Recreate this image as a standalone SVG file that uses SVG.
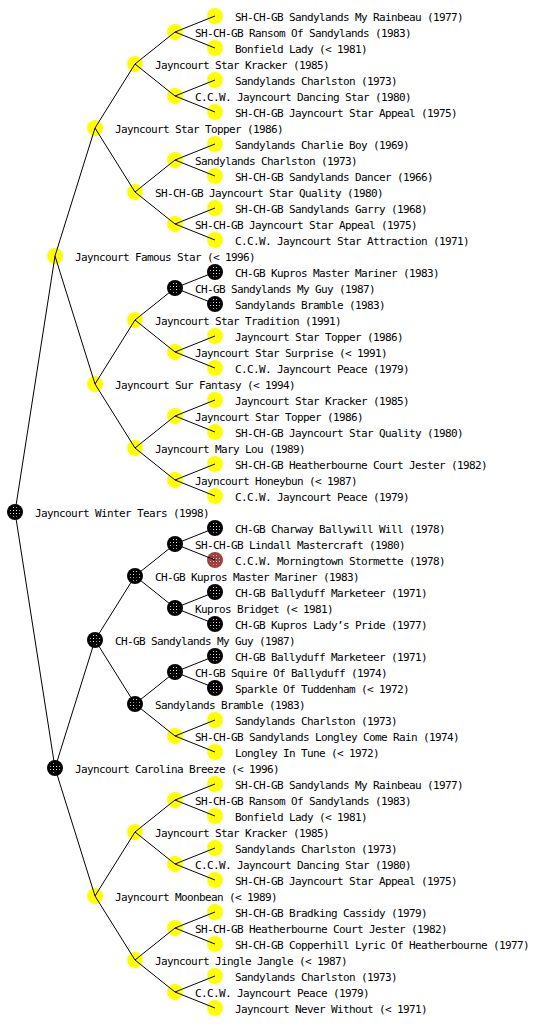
<svg xmlns="http://www.w3.org/2000/svg" xmlns:xlink="http://www.w3.org/1999/xlink" width="560" height="1024" viewBox="0 0 560 1024">
<style>
text{font-family:"DejaVu Sans Mono","Liberation Mono",monospace;font-size:11px;letter-spacing:-0.62px;fill:#000}
.c{fill:none;stroke:#000;stroke-width:1}
</style>
<defs>
<pattern id="dots" width="3" height="3" patternUnits="userSpaceOnUse"><rect width="3" height="3" fill="#000"/><rect x="1" y="1" width="1" height="1" fill="#fff"/></pattern>
<pattern id="rdots" width="3" height="3" patternUnits="userSpaceOnUse"><rect width="3" height="3" fill="#a04040"/><rect x="1" y="1" width="1" height="1" fill="#e8c8c8"/></pattern>
<g id="Y"><circle r="8" fill="#ffff00"/></g>
<g id="K"><circle r="8" fill="#000"/><circle r="5" fill="url(#dots)"/></g>
<g id="R"><circle r="8" fill="#a04040"/><circle r="5" fill="url(#rdots)"/></g>
</defs>
<rect width="560" height="1024" fill="#fff"/>
<g id="nodes">
<g id="n0"><use xlink:href="#K" x="15" y="512"/><text x="35" y="517">Jayncourt Winter Tears (1998)</text></g>
<g id="n1"><use xlink:href="#Y" x="55" y="256"/><text x="75" y="261">Jayncourt Famous Star (&lt; 1996)</text></g>
<g id="n2"><use xlink:href="#K" x="55" y="768"/><text x="75" y="773">Jayncourt Carolina Breeze (&lt; 1996)</text></g>
<g id="n3"><use xlink:href="#Y" x="95" y="128"/><text x="115" y="133">Jayncourt Star Topper (1986)</text></g>
<g id="n4"><use xlink:href="#Y" x="95" y="384"/><text x="115" y="389">Jayncourt Sur Fantasy (&lt; 1994)</text></g>
<g id="n5"><use xlink:href="#K" x="95" y="640"/><text x="115" y="645">CH-GB Sandylands My Guy (1987)</text></g>
<g id="n6"><use xlink:href="#Y" x="95" y="896"/><text x="115" y="901">Jayncourt Moonbean (&lt; 1989)</text></g>
<g id="n7"><use xlink:href="#Y" x="135" y="64"/><text x="155" y="69">Jayncourt Star Kracker (1985)</text></g>
<g id="n8"><use xlink:href="#Y" x="135" y="192"/><text x="155" y="197">SH-CH-GB Jayncourt Star Quality (1980)</text></g>
<g id="n9"><use xlink:href="#Y" x="135" y="320"/><text x="155" y="325">Jayncourt Star Tradition (1991)</text></g>
<g id="n10"><use xlink:href="#Y" x="135" y="448"/><text x="155" y="453">Jayncourt Mary Lou (1989)</text></g>
<g id="n11"><use xlink:href="#K" x="135" y="576"/><text x="155" y="581">CH-GB Kupros Master Mariner (1983)</text></g>
<g id="n12"><use xlink:href="#K" x="135" y="704"/><text x="155" y="709">Sandylands Bramble (1983)</text></g>
<g id="n13"><use xlink:href="#Y" x="135" y="832"/><text x="155" y="837">Jayncourt Star Kracker (1985)</text></g>
<g id="n14"><use xlink:href="#Y" x="135" y="960"/><text x="155" y="965">Jayncourt Jingle Jangle (&lt; 1987)</text></g>
<g id="n15"><use xlink:href="#Y" x="175" y="32"/><text x="195" y="37">SH-CH-GB Ransom Of Sandylands (1983)</text></g>
<g id="n16"><use xlink:href="#Y" x="175" y="96"/><text x="195" y="101">C.C.W. Jayncourt Dancing Star (1980)</text></g>
<g id="n17"><use xlink:href="#Y" x="175" y="160"/><text x="195" y="165">Sandylands Charlston (1973)</text></g>
<g id="n18"><use xlink:href="#Y" x="175" y="224"/><text x="195" y="229">SH-CH-GB Jayncourt Star Appeal (1975)</text></g>
<g id="n19"><use xlink:href="#K" x="175" y="288"/><text x="195" y="293">CH-GB Sandylands My Guy (1987)</text></g>
<g id="n20"><use xlink:href="#Y" x="175" y="352"/><text x="195" y="357">Jayncourt Star Surprise (&lt; 1991)</text></g>
<g id="n21"><use xlink:href="#Y" x="175" y="416"/><text x="195" y="421">Jayncourt Star Topper (1986)</text></g>
<g id="n22"><use xlink:href="#Y" x="175" y="480"/><text x="195" y="485">Jayncourt Honeybun (&lt; 1987)</text></g>
<g id="n23"><use xlink:href="#K" x="175" y="544"/><text x="195" y="549">SH-CH-GB Lindall Mastercraft (1980)</text></g>
<g id="n24"><use xlink:href="#K" x="175" y="608"/><text x="195" y="613">Kupros Bridget (&lt; 1981)</text></g>
<g id="n25"><use xlink:href="#K" x="175" y="672"/><text x="195" y="677">CH-GB Squire Of Ballyduff (1974)</text></g>
<g id="n26"><use xlink:href="#Y" x="175" y="736"/><text x="195" y="741">SH-CH-GB Sandylands Longley Come Rain (1974)</text></g>
<g id="n27"><use xlink:href="#Y" x="175" y="800"/><text x="195" y="805">SH-CH-GB Ransom Of Sandylands (1983)</text></g>
<g id="n28"><use xlink:href="#Y" x="175" y="864"/><text x="195" y="869">C.C.W. Jayncourt Dancing Star (1980)</text></g>
<g id="n29"><use xlink:href="#Y" x="175" y="928"/><text x="195" y="933">SH-CH-GB Heatherbourne Court Jester (1982)</text></g>
<g id="n30"><use xlink:href="#Y" x="175" y="992"/><text x="195" y="997">C.C.W. Jayncourt Peace (1979)</text></g>
<g id="n31"><use xlink:href="#Y" x="215" y="16"/><text x="235" y="21">SH-CH-GB Sandylands My Rainbeau (1977)</text></g>
<g id="n32"><use xlink:href="#Y" x="215" y="48"/><text x="235" y="53">Bonfield Lady (&lt; 1981)</text></g>
<g id="n33"><use xlink:href="#Y" x="215" y="80"/><text x="235" y="85">Sandylands Charlston (1973)</text></g>
<g id="n34"><use xlink:href="#Y" x="215" y="112"/><text x="235" y="117">SH-CH-GB Jayncourt Star Appeal (1975)</text></g>
<g id="n35"><use xlink:href="#Y" x="215" y="144"/><text x="235" y="149">Sandylands Charlie Boy (1969)</text></g>
<g id="n36"><use xlink:href="#Y" x="215" y="176"/><text x="235" y="181">SH-CH-GB Sandylands Dancer (1966)</text></g>
<g id="n37"><use xlink:href="#Y" x="215" y="208"/><text x="235" y="213">SH-CH-GB Sandylands Garry (1968)</text></g>
<g id="n38"><use xlink:href="#Y" x="215" y="240"/><text x="235" y="245">C.C.W. Jayncourt Star Attraction (1971)</text></g>
<g id="n39"><use xlink:href="#K" x="215" y="272"/><text x="235" y="277">CH-GB Kupros Master Mariner (1983)</text></g>
<g id="n40"><use xlink:href="#K" x="215" y="304"/><text x="235" y="309">Sandylands Bramble (1983)</text></g>
<g id="n41"><use xlink:href="#Y" x="215" y="336"/><text x="235" y="341">Jayncourt Star Topper (1986)</text></g>
<g id="n42"><use xlink:href="#Y" x="215" y="368"/><text x="235" y="373">C.C.W. Jayncourt Peace (1979)</text></g>
<g id="n43"><use xlink:href="#Y" x="215" y="400"/><text x="235" y="405">Jayncourt Star Kracker (1985)</text></g>
<g id="n44"><use xlink:href="#Y" x="215" y="432"/><text x="235" y="437">SH-CH-GB Jayncourt Star Quality (1980)</text></g>
<g id="n45"><use xlink:href="#Y" x="215" y="464"/><text x="235" y="469">SH-CH-GB Heatherbourne Court Jester (1982)</text></g>
<g id="n46"><use xlink:href="#Y" x="215" y="496"/><text x="235" y="501">C.C.W. Jayncourt Peace (1979)</text></g>
<g id="n47"><use xlink:href="#K" x="215" y="528"/><text x="235" y="533">CH-GB Charway Ballywill Will (1978)</text></g>
<g id="n48"><use xlink:href="#R" x="215" y="560"/><text x="235" y="565">C.C.W. Morningtown Stormette (1978)</text></g>
<g id="n49"><use xlink:href="#K" x="215" y="592"/><text x="235" y="597">CH-GB Ballyduff Marketeer (1971)</text></g>
<g id="n50"><use xlink:href="#K" x="215" y="624"/><text x="235" y="629">CH-GB Kupros Lady’s Pride (1977)</text></g>
<g id="n51"><use xlink:href="#K" x="215" y="656"/><text x="235" y="661">CH-GB Ballyduff Marketeer (1971)</text></g>
<g id="n52"><use xlink:href="#K" x="215" y="688"/><text x="235" y="693">Sparkle Of Tuddenham (&lt; 1972)</text></g>
<g id="n53"><use xlink:href="#Y" x="215" y="720"/><text x="235" y="725">Sandylands Charlston (1973)</text></g>
<g id="n54"><use xlink:href="#Y" x="215" y="752"/><text x="235" y="757">Longley In Tune (&lt; 1972)</text></g>
<g id="n55"><use xlink:href="#Y" x="215" y="784"/><text x="235" y="789">SH-CH-GB Sandylands My Rainbeau (1977)</text></g>
<g id="n56"><use xlink:href="#Y" x="215" y="816"/><text x="235" y="821">Bonfield Lady (&lt; 1981)</text></g>
<g id="n57"><use xlink:href="#Y" x="215" y="848"/><text x="235" y="853">Sandylands Charlston (1973)</text></g>
<g id="n58"><use xlink:href="#Y" x="215" y="880"/><text x="235" y="885">SH-CH-GB Jayncourt Star Appeal (1975)</text></g>
<g id="n59"><use xlink:href="#Y" x="215" y="912"/><text x="235" y="917">SH-CH-GB Bradking Cassidy (1979)</text></g>
<g id="n60"><use xlink:href="#Y" x="215" y="944"/><text x="235" y="949">SH-CH-GB Copperhill Lyric Of Heatherbourne (1977)</text></g>
<g id="n61"><use xlink:href="#Y" x="215" y="976"/><text x="235" y="981">Sandylands Charlston (1973)</text></g>
<g id="n62"><use xlink:href="#Y" x="215" y="1008"/><text x="235" y="1013">Jayncourt Never Without (&lt; 1971)</text></g>
</g>
<g id="connectors">
<path class="c" d="M55 256L15 512L55 768M95 128L55 256L95 384M95 640L55 768L95 896M135 64L95 128L135 192M135 320L95 384L135 448M135 576L95 640L135 704M135 832L95 896L135 960M175 32L135 64L175 96M175 160L135 192L175 224M175 288L135 320L175 352M175 416L135 448L175 480M175 544L135 576L175 608M175 672L135 704L175 736M175 800L135 832L175 864M175 928L135 960L175 992M215 16L175 32L215 48M215 80L175 96L215 112M215 144L175 160L215 176M215 208L175 224L215 240M215 272L175 288L215 304M215 336L175 352L215 368M215 400L175 416L215 432M215 464L175 480L215 496M215 528L175 544L215 560M215 592L175 608L215 624M215 656L175 672L215 688M215 720L175 736L215 752M215 784L175 800L215 816M215 848L175 864L215 880M215 912L175 928L215 944M215 976L175 992L215 1008"/>
</g>
</svg>
